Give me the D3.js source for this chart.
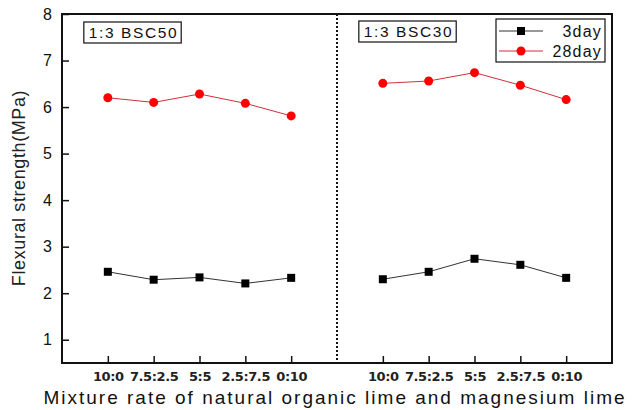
<!DOCTYPE html>
<html>
<head>
<meta charset="utf-8">
<script src="https://cdn.jsdelivr.net/npm/d3@7"></script>
<style>
  body { margin: 0; background: #fff; }
  svg { font-family: "Liberation Sans", Arial, sans-serif; }
</style>
</head>
<body>
<div id="chart"></div>
<script>
// data
var categories = ["10:0", "7.5:2.5", "5:5", "2.5:7.5", "0:10"];
var groups = ["1:3 BSC50", "1:3 BSC30"];
var yTicks = [1, 2, 3, 4, 5, 6, 7, 8];
var day3_bsc50 = [2.46, 2.29, 2.34, 2.21, 2.33];
var day28_bsc50 = [6.20, 6.10, 6.28, 6.08, 5.81];
var day3_bsc30 = [2.30, 2.46, 2.74, 2.61, 2.33];
var day28_bsc30 = [6.51, 6.56, 6.74, 6.47, 6.16];

var W = 633, H = 410;
var margin = { top: 14, right: 21, bottom: 47, left: 62 };
var width = W - margin.left - margin.right,
    height = H - margin.top - margin.bottom;

var svg = d3.select("#chart").append("svg")
    .attr("width", W).attr("height", H);
var g = svg.append("g")
    .attr("transform", "translate(" + margin.left + "," + margin.top + ")");

// slots: group 1 at 0..4, divider at 5, group 2 at 6..10
var x = d3.scaleLinear().domain([-1, 11]).range([0, width]);
var y = d3.scaleLinear().domain([0.5, 8]).range([height, 0]);

function slot(gi, i) { return gi * 6 + i; }

var series = [
  { name: "3day", color: "#000", line: "#333", shape: "square", values: [day3_bsc50, day3_bsc30] },
  { name: "28day", color: "#ff0000", line: "#d0303a", shape: "circle", values: [day28_bsc50, day28_bsc30] }
];

// axes
var xTickVals = [], xTickLab = [];
groups.forEach(function (gr, gi) {
  categories.forEach(function (c, i) { xTickVals.push(slot(gi, i)); xTickLab.push(c); });
});

var xAxis = g.append("g")
    .attr("transform", "translate(0," + height + ")")
    .call(d3.axisBottom(x).tickValues(xTickVals)
      .tickFormat(function (d, i) { return xTickLab[i]; })
      .tickSizeInner(-7).tickSizeOuter(0).tickPadding(9));
xAxis.selectAll("text").attr("font-size", 13).attr("font-weight", "bold")
    .attr("fill", "#222").attr("font-family", "'DejaVu Sans', sans-serif")
    .style("letter-spacing", "-0.4px");

var yAxis = g.append("g")
    .call(d3.axisLeft(y).tickValues(yTicks).tickFormat(d3.format("d"))
      .tickSizeInner(-7).tickSizeOuter(0).tickPadding(10));
yAxis.selectAll("text").attr("font-size", 16).attr("fill", "#111");

[xAxis, yAxis].forEach(function (a) {
  a.select(".domain").remove();
  a.selectAll(".tick line").attr("stroke", "#111").attr("stroke-width", 1.5);
});

// frame
g.append("rect")
    .attr("width", width).attr("height", height)
    .attr("fill", "none").attr("stroke", "#111").attr("stroke-width", 2);

// dotted divider
g.append("line")
    .attr("x1", x(5)).attr("x2", x(5))
    .attr("y1", 0).attr("y2", height)
    .attr("stroke", "#111").attr("stroke-width", 2)
    .attr("stroke-dasharray", "2,2");

// group labels
groups.forEach(function (gr, gi) {
  var bx = x(slot(gi, 0)) - 24, by = 8 - gi;
  var lab = g.append("g");
  var box = lab.append("rect");
  var t = lab.append("text").attr("x", bx + 5).attr("y", by + 16)
      .attr("font-size", 15.5).style("letter-spacing", "1.6px").attr("fill", "#111").text(gr);
  var bb = t.node().getBBox();
  box.attr("x", bx).attr("y", by)
      .attr("width", bb.width + 8).attr("height", 21)
      .attr("fill", "#fff").attr("stroke", "#111").attr("stroke-width", 1.2);
});

// lines and markers
var line = d3.line().x(function (d) { return x(d.s); }).y(function (d) { return y(d.v); });

series.forEach(function (s) {
  s.values.forEach(function (vals, gi) {
    var pts = vals.map(function (v, i) { return { s: slot(gi, i), v: v }; });
    g.append("path").datum(pts).attr("d", line)
        .attr("fill", "none").attr("stroke", s.line).attr("stroke-width", 1);
    var sel = g.append("g").selectAll("mark").data(pts).enter();
    if (s.shape === "square") {
      sel.append("rect")
          .attr("x", function (d) { return x(d.s) - 4; })
          .attr("y", function (d) { return y(d.v) - 4; })
          .attr("width", 8).attr("height", 8).attr("fill", s.color);
    } else {
      sel.append("circle")
          .attr("cx", function (d) { return x(d.s); })
          .attr("cy", function (d) { return y(d.v); })
          .attr("r", 4.5).attr("fill", s.color);
    }
  });
});

// legend
var lg = svg.append("g").attr("transform", "translate(496,19)");
lg.append("rect").attr("width", 109).attr("height", 43)
    .attr("fill", "#fff").attr("stroke", "#111").attr("stroke-width", 1.2);
series.forEach(function (s, i) {
  var ly = 12 + i * 20;
  lg.append("line").attr("x1", 3).attr("x2", 47).attr("y1", ly).attr("y2", ly)
      .attr("stroke", s.line).attr("stroke-width", 1);
  if (s.shape === "square") {
    lg.append("rect").attr("x", 21).attr("y", ly - 4).attr("width", 8).attr("height", 8).attr("fill", s.color);
  } else {
    lg.append("circle").attr("cx", 25).attr("cy", ly).attr("r", 4.5).attr("fill", s.color);
  }
  lg.append("text").attr("x", 106).attr("y", ly + 6).attr("text-anchor", "end")
      .attr("font-size", 16).style("letter-spacing", "1.2px").attr("fill", "#111").text(s.name);
});

// axis titles
svg.append("text")
    .attr("transform", "translate(25,188) rotate(-90)")
    .attr("text-anchor", "middle").attr("font-size", 18).style("letter-spacing", "0.6px")
    .attr("fill", "#222")
    .text("Flexural strength(MPa)");
svg.append("text")
    .attr("x", 335).attr("y", 404).attr("text-anchor", "middle")
    .attr("font-size", 19).style("letter-spacing", "2px").attr("fill", "#111")
    .text("Mixture rate of natural organic lime and magnesium lime");
</script>
</body>
</html>
